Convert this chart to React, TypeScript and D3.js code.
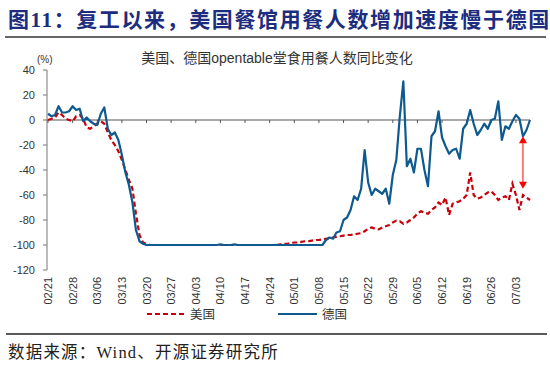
import * as d3 from 'd3';
import React from 'react';

// daily values, 02/21 .. 07/07 (2020), % yoy
const germany: number[] = [
    5, 3, 4, 11, 6, 6, 7, 11, 8, 9,
    -1, 2, -1, -3, -4, 5, 10, -7, -12, -10,
    -16, -28, -42, -52, -66, -88, -97, -99, -100, -100,
    -100, -100, -100, -100, -100, -100, -100, -100, -100, -100,
    -100, -100, -100, -100, -100, -100, -100, -100, -100, -99.5,
    -100, -100, -100, -99.5, -100, -100, -100, -100, -100, -100,
    -100, -100, -100, -100, -100, -100, -100, -100, -100, -100,
    -100, -100, -100, -100, -100, -100, -100, -100, -100, -96,
    -94, -95, -90, -89, -80, -78, -72, -61, -64, -55,
    -24, -50, -60, -55, -57, -59, -55, -67, -44, -32,
    3, 31, -37, -31, -42, -23, -23, -40, -53, -13,
    -9, 7, -14, -21, -27, -24, -23, -31, -7, -3,
    8, -3, -12, -8, -3, -7, 0, 1, 15, -16,
    -5, -7, -1, 4, 1, -13, -8, 0,
];

const usa: number[] = [
    0, 1, 2, 6, 4, 1, 0, -1, 3, 4,
    1, -6, -7, -5, -3, -1, -3, -10, -16, -20,
    -25, -32, -40, -48, -55, -75, -92, -98, -99, -100,
    -100, -100, -100, -100, -100, -100, -100, -100, -100, -100,
    -100, -100, -100, -100, -100, -100, -100, -100, -100, -100,
    -100, -100, -100, -100, -100, -100, -100, -100, -100, -100,
    -100, -100, -100, -100, -100, -100, -99.5, -99, -99, -98.5,
    -98, -98, -97.5, -97, -97, -96.5, -96, -96, -95.5, -95,
    -94.5, -94, -93.5, -93, -92.5, -92, -92, -91.5, -91, -90.5,
    -89, -87, -86, -87, -87.5, -86, -85, -84, -82, -80.5,
    -81, -83, -82, -80, -78, -75, -73, -74, -75, -72,
    -70, -66, -68, -62, -76, -67, -66, -65, -63, -60,
    -42, -60, -63, -62, -60, -58, -57, -60, -64, -62,
    -61, -64, -51, -60, -72, -60, -62, -64,
];

const tickLabels = [
    '02/21', '02/28', '03/06', '03/13', '03/20', '03/27', '04/03', '04/10', '04/17', '04/24',
    '05/01', '05/08', '05/15', '05/22', '05/29', '06/05', '06/12', '06/19', '06/26', '07/03',
];
const yTicks = [40, 20, 0, -20, -40, -60, -80, -100, -120];

// gap annotation (day index, from / to value)
const gapDay = 135;
const gapFrom = -13;
const gapTo = -55;

const BLUE = '#0E5A8E';
const RED = '#C8000A';
const sansFont = '"Liberation Sans", Arial, "Noto Sans CJK SC", sans-serif';
const cjkFont = '"Noto Sans CJK SC", sans-serif';
const serifFont = '"Liberation Serif", "Noto Sans CJK SC", serif';

const App: React.FC = () => {
    const width = 550;
    const height = 367;

    const x = d3.scaleLinear().domain([0, germany.length - 1]).range([48, 530]);
    const y = d3.scaleLinear().domain([-120, 40]).range([270, 70]);

    const line = d3.line<number>()
        .x((_, i) => x(i))
        .y((d) => y(d));

    const ax = x(gapDay);
    const ay1 = y(gapFrom);
    const ay2 = y(gapTo);

    return (
        <div>
            <style>{'body{margin:0}'}</style>
            <svg width={width} height={height} style={{ display: 'block', background: '#fff' }}>
                {/* title */}
                <text x={8} y={27} fontFamily={cjkFont} fontWeight="bold" fontSize={21} letterSpacing={1.6} fill="#1C2C7E">
                    图<tspan fontFamily={serifFont}>11</tspan>：复工以来，美国餐馆用餐人数增加速度慢于德国
                </text>
                <line x1={5} x2={546} y1={37} y2={37} stroke="#333" strokeWidth={1.5} />

                <text x={277} y={63} textAnchor="middle" fontFamily={sansFont} fontSize={14} fill="#333">
                    美国、德国opentable堂食用餐人数同比变化
                </text>
                <text x={37} y={63} fontFamily={sansFont} fontSize={10} fill="#333">(%)</text>

                {/* y axis */}
                <line x1={47} x2={47} y1={y(40)} y2={y(-120)} stroke="#777" strokeWidth={1} />
                {yTicks.map((t) => (
                    <g key={t}>
                        <line x1={43} x2={47} y1={y(t)} y2={y(t)} stroke="#777" />
                        <text x={35} y={y(t)} dy="0.35em" textAnchor="end"
                            fontFamily={sansFont} fontSize={11} fill="#333">{t}</text>
                    </g>
                ))}

                {/* zero line with weekly ticks */}
                <line x1={47} x2={x(germany.length - 1)} y1={y(0)} y2={y(0)} stroke="#555" strokeWidth={1.2} />
                {tickLabels.map((lab, i) => (
                    <g key={lab}>
                        <line x1={x(i * 7)} x2={x(i * 7)} y1={y(0)} y2={y(0) + 3} stroke="#555" />
                        <text transform={`translate(${x(i * 7) + 4},277) rotate(-90)`} textAnchor="end"
                            fontFamily={sansFont} fontSize={11} fill="#333">{lab}</text>
                    </g>
                ))}

                {/* series */}
                <path d={line(usa) || ''} fill="none" stroke={RED} strokeWidth={2.2} strokeDasharray="5,3" />
                <path d={line(germany) || ''} fill="none" stroke={BLUE} strokeWidth={2.2} strokeLinejoin="round" />

                {/* gap arrow */}
                <line x1={ax} x2={ax} y1={ay1 + 5} y2={ay2 - 5} stroke="#FF0000" strokeWidth={1} />
                <path d={`M${ax},${ay1} L${ax - 4},${ay1 + 7} L${ax + 4},${ay1 + 7} Z`} fill="#FF0000" />
                <path d={`M${ax},${ay2} L${ax - 4},${ay2 - 7} L${ax + 4},${ay2 - 7} Z`} fill="#FF0000" />

                {/* legend */}
                <line x1={147} x2={185} y1={314} y2={314} stroke={RED} strokeWidth={2.2} strokeDasharray="5,3" />
                <text x={190} y={318.5} fontFamily={cjkFont} fontSize={12.5} fill="#333">美国</text>
                <line x1={278} x2={317} y1={314} y2={314} stroke={BLUE} strokeWidth={2.2} />
                <text x={322} y={318.5} fontFamily={cjkFont} fontSize={12.5} fill="#333">德国</text>

                <line x1={6} x2={547} y1={334} y2={334} stroke="#222" strokeWidth={1.3} />
                <text x={8} y={358} fontFamily={serifFont} fontSize={16.5} letterSpacing={1.2} fill="#222">
                    数据来源：Wind、开源证券研究所
                </text>
            </svg>
        </div>
    );
};

export default App;
